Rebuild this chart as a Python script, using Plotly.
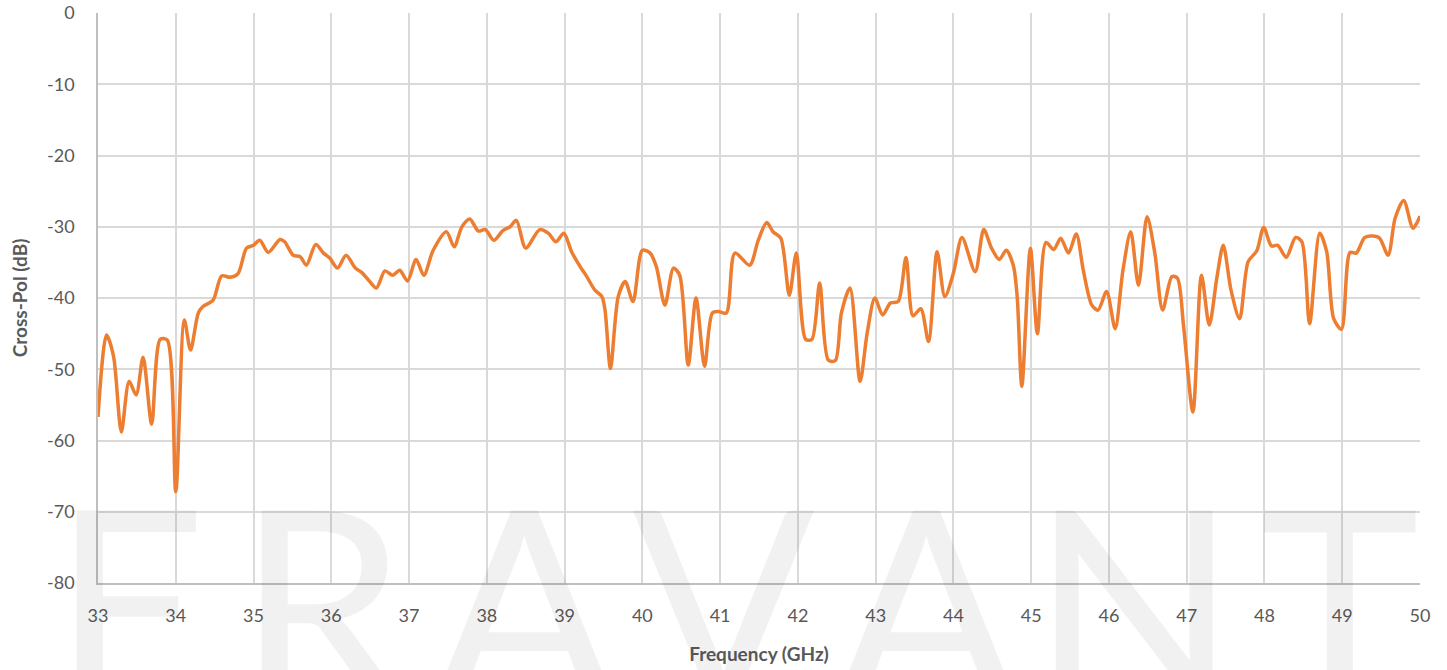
import plotly.graph_objects as go

freq_ghz = [
    33.00, 33.11, 33.20, 33.30, 33.40, 33.49, 33.58, 33.69, 33.80, 33.89,
    34.00, 34.11, 34.19, 34.29, 34.35, 34.48, 34.59, 34.70, 34.80, 34.91,
    35.00, 35.08, 35.19, 35.34, 35.40, 35.51, 35.60, 35.68, 35.80, 35.90,
    35.98, 36.08, 36.19, 36.31, 36.39, 36.48, 36.58, 36.69, 36.79, 36.88,
    36.98, 37.09, 37.19, 37.31, 37.48, 37.58, 37.68, 37.78, 37.89, 37.98,
    38.09, 38.21, 38.30, 38.38, 38.50, 38.68, 38.79, 38.89, 38.99, 39.09,
    39.20, 39.28, 39.39, 39.48, 39.52, 39.59, 39.69, 39.78, 39.88, 40.00,
    40.10, 40.18, 40.29, 40.40, 40.48, 40.59, 40.69, 40.80, 40.90, 40.98,
    41.08, 41.19, 41.38, 41.49, 41.60, 41.68, 41.78, 41.89, 41.98, 42.10,
    42.18, 42.28, 42.39, 42.48, 42.56, 42.67, 42.80, 42.89, 42.99, 43.09,
    43.19, 43.29, 43.39, 43.48, 43.58, 43.68, 43.79, 43.89, 44.00, 44.11,
    44.28, 44.39, 44.49, 44.59, 44.68, 44.77, 44.82, 44.88, 44.99, 45.08,
    45.19, 45.29, 45.38, 45.48, 45.58, 45.67, 45.78, 45.86, 45.97, 46.08,
    46.18, 46.28, 46.38, 46.49, 46.59, 46.69, 46.81, 46.88, 46.96, 47.08,
    47.19, 47.29, 47.39, 47.47, 47.57, 47.68, 47.79, 47.90, 47.99, 48.09,
    48.17, 48.28, 48.40, 48.48, 48.58, 48.71, 48.80, 48.89, 48.99, 49.10,
    49.18, 49.29, 49.40, 49.48, 49.59, 49.68, 49.79, 49.91, 50.00,
]

cross_pol_db = [
    -56.7, -45.2, -48.2, -58.8, -51.7, -53.6, -48.3, -57.7, -45.8, -45.9,
    -67.2, -43.1, -47.3, -42.1, -41.2, -40.3, -36.9, -37.1, -36.6, -33.0,
    -32.6, -31.9, -33.6, -31.8, -32.1, -34.0, -34.2, -35.4, -32.5, -33.7,
    -34.4, -35.8, -34.0, -35.8, -36.4, -37.5, -38.6, -36.2, -36.8, -36.1,
    -37.6, -34.6, -36.8, -33.3, -30.7, -32.8, -30.0, -28.9, -30.6, -30.4,
    -31.9, -30.5, -30.0, -29.1, -33.0, -30.4, -30.9, -32.1, -30.9, -33.5,
    -35.6, -36.9, -38.9, -39.8, -41.7, -49.9, -39.8, -37.7, -40.5, -33.3,
    -33.7, -35.6, -41.0, -35.8, -36.8, -49.4, -40.0, -49.6, -42.1, -41.9,
    -42.1, -33.7, -35.4, -31.9, -29.4, -30.7, -31.6, -39.6, -33.7, -45.8,
    -45.8, -37.9, -48.7, -48.8, -42.1, -38.6, -51.7, -45.0, -40.0, -42.4,
    -40.7, -40.5, -34.3, -42.5, -41.5, -46.1, -33.5, -39.8, -36.5, -31.5,
    -36.3, -30.4, -33.0, -34.6, -33.3, -35.4, -39.8, -52.4, -33.0, -45.0,
    -32.2, -33.2, -31.6, -33.7, -31.0, -36.1, -41.0, -41.7, -39.1, -44.3,
    -36.1, -30.7, -38.2, -28.6, -33.7, -41.7, -37.0, -37.2, -44.0, -56.0,
    -36.8, -43.8, -37.0, -32.6, -38.9, -42.9, -34.9, -33.4, -30.1, -32.7,
    -32.6, -34.3, -31.5, -32.1, -43.6, -30.9, -33.5, -42.9, -44.4, -33.6,
    -33.7, -31.5, -31.3, -31.6, -34.0, -28.8, -26.3, -30.2, -28.5,
]

x_ticks = list(range(33, 51))
y_ticks = list(range(-80, 1, 10))

watermark_letters = ["E", "R", "A", "V", "A", "N", "T"]
watermark_x = [0.024, 0.169, 0.324, 0.474, 0.628, 0.784, 0.939]

TEXT = "#595959"
GRID = "#D9D9D9"
FONT = "Lato"

fig = go.Figure()
fig.add_trace(go.Scatter(
    x=freq_ghz, y=cross_pol_db, mode="lines",
    line=dict(color="#ED7D31", width=3.5, shape="spline", smoothing=0.8),
    hoverinfo="x+y", showlegend=False,
))

annotations = []
for letter, xp in zip(watermark_letters, watermark_x):
    annotations.append(dict(
        text=letter, x=xp, y=(583 - 436) / 570, xref="paper", yref="paper",
        xanchor="center", yanchor="top", showarrow=False,
        font=dict(family=FONT, size=270, color="rgba(0,0,0,0.055)", weight=400),
    ))

fig.update_layout(
    width=1447, height=670,
    margin=dict(l=98, r=27, t=13, b=87, autoexpand=False),
    paper_bgcolor="white", plot_bgcolor="rgba(0,0,0,0)",
    font=dict(family=FONT, size=18, color=TEXT),
    annotations=annotations,
    xaxis=dict(
        range=[33, 50], tickvals=x_ticks, ticktext=[str(v) for v in x_ticks],
        showgrid=True, gridcolor=GRID, gridwidth=1.5,
        showline=True, linecolor="#BFBFBF", linewidth=1.5,
        ticks="outside", ticklen=16, tickcolor="rgba(0,0,0,0)",
        zeroline=False, automargin=False, ticklabeloverflow="allow",
        tickfont=dict(family=FONT, size=18, color=TEXT),
        title=dict(text="<b>Frequency (GHz)</b>", standoff=22,
                   font=dict(family=FONT, size=19, color=TEXT)),
    ),
    yaxis=dict(
        range=[-80, 0], tickvals=y_ticks, ticktext=[str(v) for v in y_ticks],
        showgrid=True, gridcolor=GRID, gridwidth=1.5,
        showline=True, linecolor="#BFBFBF", linewidth=1.5,
        ticks="outside", ticklen=18, tickcolor="rgba(0,0,0,0)",
        zeroline=False, automargin=False, ticklabeloverflow="allow",
        tickfont=dict(family=FONT, size=18, color=TEXT),
        title=dict(text="<b>Cross-Pol (dB)</b>", standoff=14,
                   font=dict(family=FONT, size=19, color=TEXT)),
    ),
)

fig.write_html(
    "out.html",
    config={"displayModeBar": False},
    post_script="document.body.style.margin='0';document.body.style.overflow='hidden';",
)
